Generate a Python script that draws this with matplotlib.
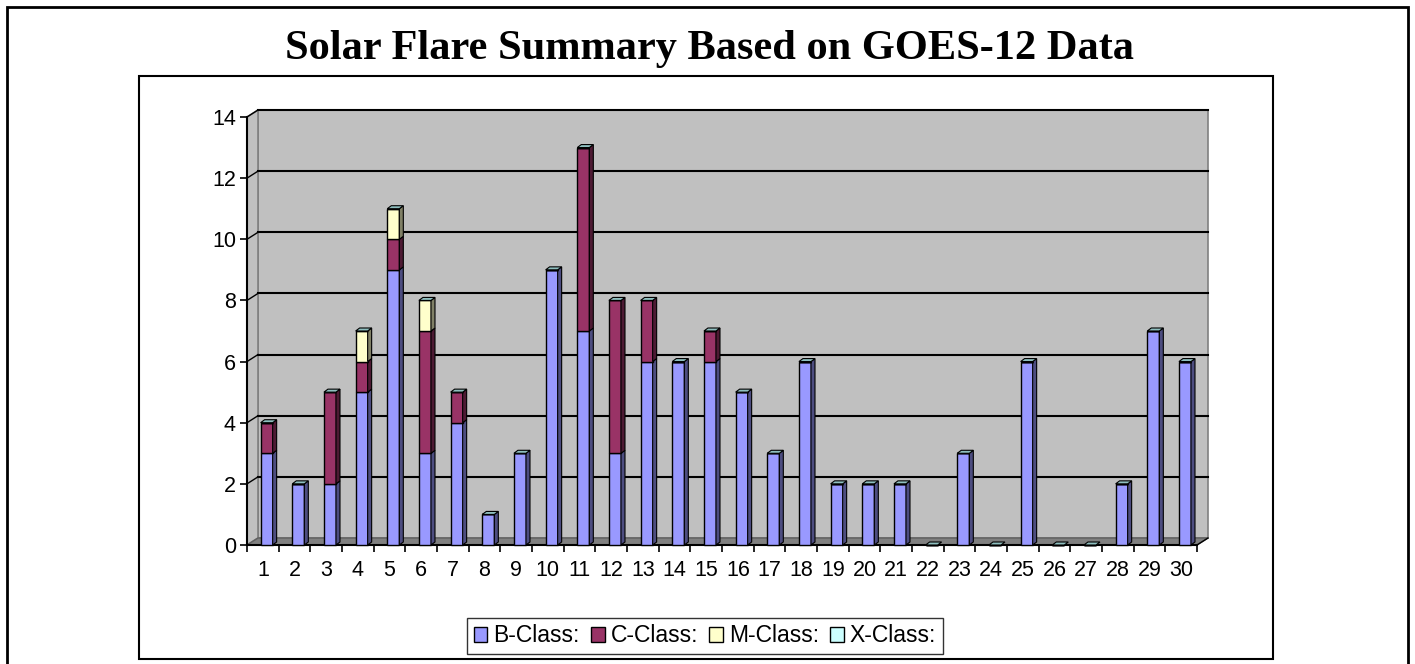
import matplotlib
matplotlib.use('Agg')
import matplotlib.pyplot as plt
from matplotlib.patches import Polygon, Rectangle, Patch
import numpy as np

# flare counts per day
days    = list(range(1, 31))
b_class = [3, 2, 2, 5, 9, 3, 4, 1, 3, 9, 7, 3, 6, 6, 6, 5, 3, 6, 2, 2, 2, 0, 3, 0, 6, 0, 0, 2, 7, 6]
c_class = [1, 0, 3, 1, 1, 4, 1, 0, 0, 0, 6, 5, 2, 0, 1, 0, 0, 0, 0, 0, 0, 0, 0, 0, 0, 0, 0, 0, 0, 0]
m_class = [0, 0, 0, 1, 1, 1, 0, 0, 0, 0, 0, 0, 0, 0, 0, 0, 0, 0, 0, 0, 0, 0, 0, 0, 0, 0, 0, 0, 0, 0]
x_class = [0] * 30
y_ticks = list(range(0, 15, 2))

series = [('B-Class:', b_class, '#9999FF', '#4D4D80'),
          ('C-Class:', c_class, '#993366', '#4D1A33'),
          ('M-Class:', m_class, '#FFFFCC', '#808066'),
          ('X-Class:', x_class, '#CCFFFF', '#8FBFBF')]

W, H = 1415, 664
fig = plt.figure(figsize=(W / 100, H / 100), dpi=100)

# frames
fig.patches.append(Rectangle((7 / W, -0.05), 1401 / W, 1 - 7 / H + 0.05, transform=fig.transFigure,
                             fill=False, ec='black', lw=2))
fig.patches.append(Rectangle((139 / W, 1 - 659 / H), 1134 / W, 583 / H, transform=fig.transFigure,
                             fill=False, ec='black', lw=1.5))

fig.text(709 / W, 1 - 59 / H, 'Solar Flare Summary Based on GOES-12 Data', ha='center', va='baseline',
         fontsize=30.5, fontweight='bold', family='Liberation Serif')

# front plane of the 3d box
ax_l, ax_r, ax_t, ax_b = 247, 1197, 117, 545
ax = fig.add_axes([ax_l / W, 1 - ax_b / H, (ax_r - ax_l) / W, (ax_b - ax_t) / H])
ax.set_xlim(0.5, 30.5)
ax.set_ylim(0, 14)
ax.patch.set_visible(False)

px_x = (ax_r - ax_l) / 30.0
px_y = (ax_b - ax_t) / 14.0
dxw, dyw = 11 / px_x, 7 / px_y      # wall depth
dxb, dyb = 4 / px_x, 3 / px_y       # bar depth

# walls and floor
ax.add_patch(Polygon([(0.5 + dxw, dyw), (30.5 + dxw, dyw), (30.5 + dxw, 14 + dyw), (0.5 + dxw, 14 + dyw)],
                     closed=True, fc='#C0C0C0', ec='#808080', lw=1.2, zorder=0, clip_on=False))
ax.add_patch(Polygon([(0.5, 0), (0.5, 14), (0.5 + dxw, 14 + dyw), (0.5 + dxw, dyw)],
                     closed=True, fc='#C0C0C0', ec='#808080', lw=1.2, zorder=0, clip_on=False))
ax.add_patch(Polygon([(0.5, 0), (30.5, 0), (30.5 + dxw, dyw), (0.5 + dxw, dyw)],
                     closed=True, fc='#808080', ec='#606060', lw=1, zorder=0.5, clip_on=False))

for y in y_ticks[1:]:
    ax.plot([0.5 + dxw, 30.5 + dxw], [y + dyw, y + dyw], color='black', lw=1.5, zorder=1, clip_on=False)
    ax.plot([0.5, 0.5 + dxw], [y, y + dyw], color='black', lw=1, zorder=1, clip_on=False)

# stacked 3d-looking bars
xs = np.array(days) + 0.12
bw = 0.38
bottom = np.zeros(30)
for name, vals, fc, sc in series:
    vals = np.array(vals, dtype=float)
    ax.bar(xs, vals, bw, bottom=bottom, color=fc, edgecolor='black', lw=1, zorder=3, clip_on=False)
    for x, b, v in zip(xs, bottom, vals):
        if v > 0:
            r = x + bw / 2
            ax.add_patch(Polygon([(r, b), (r + dxb, b + dyb), (r + dxb, b + v + dyb), (r, b + v)],
                                 closed=True, fc=sc, ec='black', lw=0.8, zorder=3, clip_on=False))
    bottom = bottom + vals

# top faces
for x, t in zip(xs, bottom):
    l = x - bw / 2
    ax.add_patch(Polygon([(l, t), (l + bw, t), (l + bw + dxb, t + dyb), (l + dxb, t + dyb)],
                         closed=True, fc='#8FBFBF', ec='black', lw=0.8, zorder=3.5, clip_on=False))

# axes
for s in ['top', 'right']:
    ax.spines[s].set_visible(False)
ax.spines['left'].set_linewidth(1.5)
ax.spines['bottom'].set_linewidth(1.5)
ax.plot([30.5, 30.5 + dxw], [0, dyw], color='black', lw=1, zorder=1, clip_on=False)

ax.set_yticks(y_ticks)
ax.set_yticklabels([str(v) for v in y_ticks])
ax.set_xticks(days)
ax.set_xticklabels([str(d) for d in days])
ax.set_xticks(np.arange(0.5, 31, 1), minor=True)
ax.tick_params(axis='x', which='major', length=0, pad=11)
ax.tick_params(axis='x', which='minor', length=5, width=1.2, direction='out')
ax.tick_params(axis='y', length=5, width=1.2, pad=3)
for lab in ax.get_xticklabels() + ax.get_yticklabels():
    lab.set_family('Liberation Sans')
    lab.set_fontsize(15.5)

handles = [Patch(facecolor=fc, edgecolor='black', label=name) for name, _, fc, _ in series]
leg = fig.legend(handles=handles, loc='center', bbox_to_anchor=(705 / W, 1 - 636 / H), ncol=4,
                 frameon=True, fancybox=False, edgecolor='black', handlelength=0.6, handleheight=0.6,
                 handletextpad=0.25, columnspacing=0.5, borderpad=0.3,
                 prop={'family': 'Liberation Sans', 'size': 16.5})
leg.get_frame().set_linewidth(1)

fig.savefig('out.png', dpi=100)
